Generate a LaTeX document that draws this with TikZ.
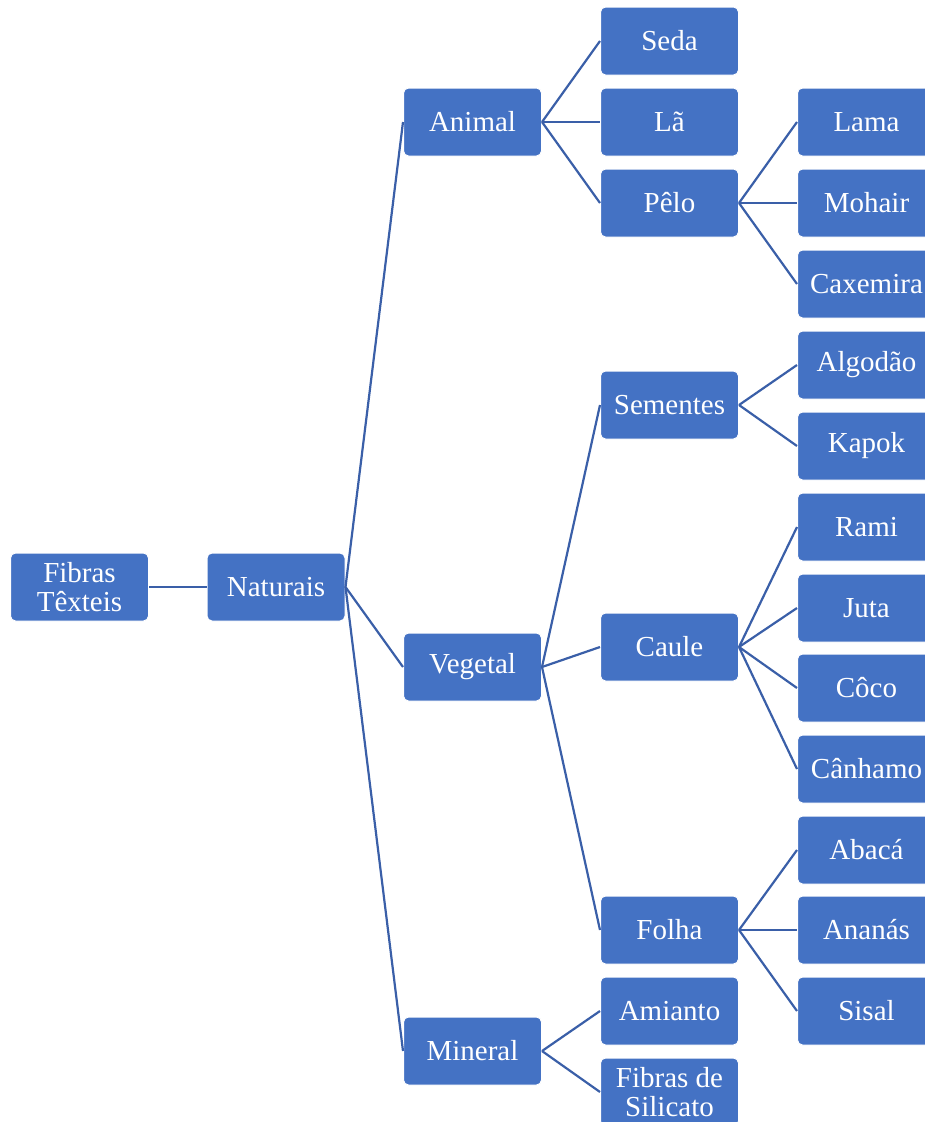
\documentclass[tikz,border=0pt]{standalone}
\usepackage{fontspec}
\setmainfont{Liberation Serif}
\definecolor{boxblue}{HTML}{4472C4}
\definecolor{lineblue}{HTML}{3A5FA8}
\begin{document}
\begin{tikzpicture}[x=1pt,y=-1pt,
  box/.style={draw=white, line width=1pt, fill=boxblue, rounded corners=5pt,
    minimum width=138pt, minimum height=68pt, inner sep=0pt,
    text=white, align=center, font=\fontsize{29}{29.5}\selectfont},
  link/.style={draw=lineblue, line width=2.2pt}]
\useasboundingbox (0,0) rectangle (925,1122);
\clip (0,0) rectangle (925,1122);
% level 0-1
\node[box] (ft) at (79.5,587) {Fibras\\Têxteis};
\node[box] (nat) at (276,587) {Naturais};
% level 2
\node[box] (ani) at (472.5,122) {Animal};
\node[box] (veg) at (472.5,667) {Vegetal};
\node[box] (min) at (472.5,1051) {Mineral};
% level 3
\node[box] (seda) at (669.5,41) {Seda};
\node[box] (la) at (669.5,122) {Lã};
\node[box] (pelo) at (669.5,203) {Pêlo};
\node[box] (sem) at (669.5,405) {Sementes};
\node[box] (caule) at (669.5,647) {Caule};
\node[box] (folha) at (669.5,930) {Folha};
\node[box] (ami) at (669.5,1011) {Amianto};
\node[box] (sil) at (669.5,1092) {Fibras de\\Silicato};
% level 4
\node[box] (lama) at (866.5,122) {Lama};
\node[box] (moh) at (866.5,203) {Mohair};
\node[box] (cax) at (866.5,284) {Caxemira};
\node[box] (alg) at (866.5,365) {Algodão};
\node[box] (kap) at (866.5,446) {Kapok};
\node[box] (rami) at (866.5,527) {Rami};
\node[box] (juta) at (866.5,608) {Juta};
\node[box] (coco) at (866.5,688) {Côco};
\node[box] (can) at (866.5,769) {Cânhamo};
\node[box] (aba) at (866.5,850) {Abacá};
\node[box] (ana) at (866.5,930) {Ananás};
\node[box] (sis) at (866.5,1011) {Sisal};
% connectors
\draw[link] (ft.east) -- (nat.west);
\foreach \c in {ani,veg,min} \draw[link] (nat.east) -- (\c.west);
\foreach \c in {seda,la,pelo} \draw[link] (ani.east) -- (\c.west);
\foreach \c in {sem,caule,folha} \draw[link] (veg.east) -- (\c.west);
\foreach \c in {ami,sil} \draw[link] (min.east) -- (\c.west);
\foreach \c in {lama,moh,cax} \draw[link] (pelo.east) -- (\c.west);
\foreach \c in {alg,kap} \draw[link] (sem.east) -- (\c.west);
\foreach \c in {rami,juta,coco,can} \draw[link] (caule.east) -- (\c.west);
\foreach \c in {aba,ana,sis} \draw[link] (folha.east) -- (\c.west);
\end{tikzpicture}
\end{document}
